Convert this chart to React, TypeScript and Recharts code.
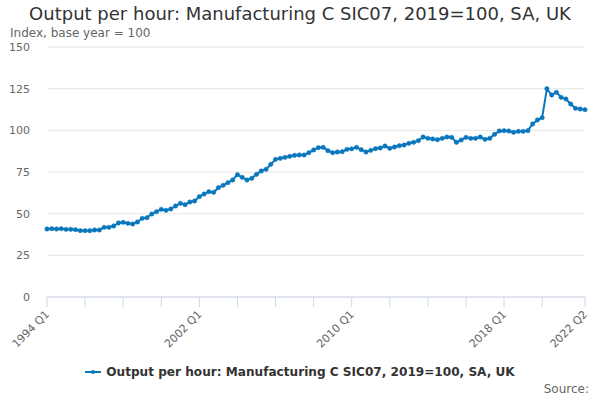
import React from "react";
import { LineChart, Line, XAxis, YAxis, CartesianGrid } from "recharts";

const START_YEAR = 1994;

// Output per hour, quarterly 1994 Q1 - 2022 Q2 (index 2019=100)
const outputPerHour: number[] = [
  40.8, 41.0, 40.8, 41.0, // 1994
  40.6, 40.6, 40.4, 39.8, // 1995
  39.8, 39.8, 40.2, 40.2, // 1996
  41.8, 41.8, 42.6, 44.4, // 1997
  44.8, 44.2, 43.8, 45.0, // 1998
  47.2, 47.6, 49.8, 51.2, // 1999
  52.6, 52.0, 52.8, 54.6, // 2000
  56.2, 55.4, 57.0, 57.6, // 2001
  60.2, 61.8, 63.2, 62.8, // 2002
  65.6, 67.0, 68.6, 70.2, // 2003
  73.4, 71.8, 70.2, 71.2, // 2004
  73.6, 75.6, 76.6, 79.6, // 2005
  82.6, 83.2, 83.8, 84.4, // 2006
  85.0, 85.2, 85.2, 86.6, // 2007
  88.2, 89.6, 89.8, 87.8, // 2008
  86.6, 87.0, 87.2, 88.6, // 2009
  88.9, 89.8, 88.4, 87.0, // 2010
  88.0, 89.0, 89.4, 90.6, // 2011
  89.2, 90.0, 90.8, 91.2, // 2012
  92.2, 92.8, 93.8, 96.0, // 2013
  95.2, 94.8, 94.4, 95.2, // 2014
  96.0, 95.8, 92.8, 94.2, // 2015
  95.8, 95.2, 95.2, 96.0, // 2016
  94.6, 95.2, 97.6, 99.6, // 2017
  99.8, 99.6, 98.8, 99.4, // 2018
  99.4, 99.8, 103.8, 106.2, // 2019
  107.6, 125.0, 121.2, 122.8, // 2020
  119.8, 118.8, 115.8, 113.2, // 2021
  112.8, 112.4, // 2022
];

const quarters: string[] = outputPerHour.map(
  (_, i) => `${START_YEAR + Math.floor(i / 4)} Q${(i % 4) + 1}`
);

const xTickMarks: string[] = [
  "1994 Q1", "1996 Q1", "1998 Q1", "2000 Q1", "2002 Q1", "2004 Q1", "2006 Q1",
  "2008 Q1", "2010 Q1", "2012 Q1", "2014 Q1", "2016 Q1", "2018 Q1", "2020 Q1",
  "2022 Q2",
];
const xTickLabels: string[] = ["1994 Q1", "2002 Q1", "2010 Q1", "2018 Q1", "2022 Q2"];
const yTicks: number[] = [0, 25, 50, 75, 100, 125, 150];

const SERIES_NAME = "Output per hour: Manufacturing C SIC07, 2019=100, SA, UK";
const TITLE = "Output per hour: Manufacturing C SIC07, 2019=100, SA, UK";
const SUBTITLE = "Index, base year = 100";
const COLOR = "#0a77bd";
const FONT = "'DejaVu Sans', sans-serif";

const data = quarters.map((q, i) => ({ quarter: q, value: outputPerHour[i] }));

const XTick = (props: any) => {
  const { x, y, payload } = props;
  if (!xTickLabels.includes(payload.value)) return null;
  const tx = x + 3;
  const ty = y + 6;
  return (
    <text
      x={tx}
      y={ty}
      transform={`rotate(-45, ${tx}, ${ty})`}
      textAnchor="end"
      fontSize={11}
      fill="#666666"
      fontFamily={FONT}
    >
      {payload.value}
    </text>
  );
};

export default function App() {
  return (
    <div style={{ position: "relative", width: 600, height: 400, background: "#fff", fontFamily: FONT }}>
      <style>{"body{margin:0;}"}</style>
      <div
        style={{
          position: "absolute",
          left: 0,
          top: 5,
          width: 600,
          textAlign: "center",
          fontSize: 18,
          lineHeight: "18px",
          color: "#333333",
          whiteSpace: "nowrap",
        }}
      >
        {TITLE}
      </div>
      <div
        style={{
          position: "absolute",
          left: 10,
          top: 26.5,
          fontSize: 12,
          lineHeight: "12px",
          color: "#666666",
          whiteSpace: "nowrap",
        }}
      >
        {SUBTITLE}
      </div>
      <div style={{ position: "absolute", left: 0, top: 0 }}>
        <LineChart
          width={600}
          height={400}
          data={data}
          margin={{ top: 47, right: 15, bottom: 0, left: 0 }}
        >
          <CartesianGrid stroke="#e6e6e6" vertical={false} />
          <XAxis
            dataKey="quarter"
            ticks={xTickMarks}
            interval={0}
            height={103}
            tick={<XTick />}
            tickSize={10}
            tickLine={{ stroke: "#ccd6eb" }}
            axisLine={{ stroke: "#ccd6eb" }}
          />
          <YAxis
            domain={[0, 150]}
            ticks={yTicks}
            width={47}
            axisLine={false}
            tickLine={false}
            tickSize={6}
            tickMargin={11}
            tick={{ fontSize: 11, fill: "#666666", fontFamily: FONT }}
          />
          <Line
            type="linear"
            dataKey="value"
            name={SERIES_NAME}
            stroke={COLOR}
            strokeWidth={2}
            dot={{ r: 2.2, fill: COLOR, stroke: COLOR, strokeWidth: 0.5 }}
            isAnimationActive={false}
          />
        </LineChart>
      </div>
      <div
        style={{
          position: "absolute",
          left: 0,
          top: 365,
          width: 600,
          display: "flex",
          justifyContent: "center",
          alignItems: "center",
          fontSize: 12.1,
          fontWeight: "bold",
          color: "#333333",
          whiteSpace: "nowrap",
        }}
      >
        <svg width={16} height={10} style={{ marginRight: 5 }}>
          <line x1={0} y1={5} x2={16} y2={5} stroke={COLOR} strokeWidth={2} />
          <circle cx={8} cy={5} r={2} fill={COLOR} />
        </svg>
        <span>{SERIES_NAME}</span>
      </div>
      <div
        style={{
          position: "absolute",
          right: 11,
          top: 382,
          fontSize: 12,
          color: "#666666",
        }}
      >
        Source:
      </div>
    </div>
  );
}
